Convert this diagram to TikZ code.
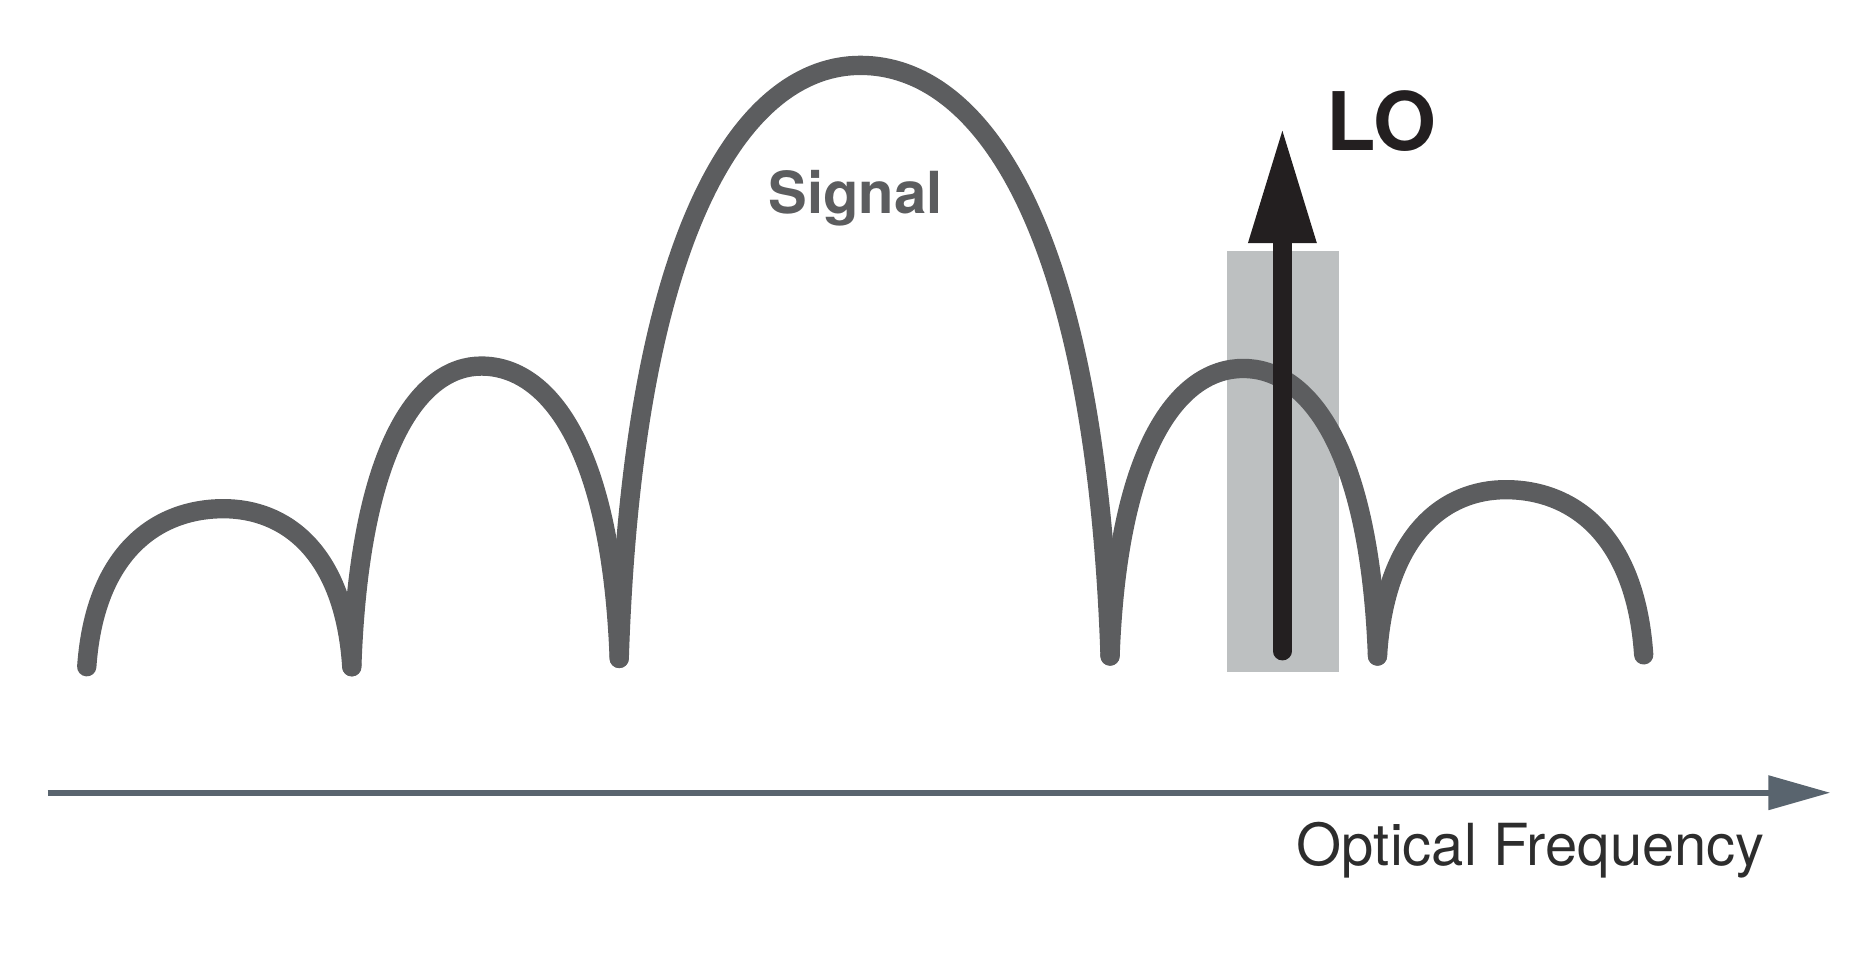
\documentclass[tikz,border=0pt]{standalone}
\usepackage{fontspec}
\setmainfont{TeX Gyre Heros}
\usepackage{xcolor}
\usetikzlibrary{arrows.meta,positioning}

\definecolor{lobegray}{HTML}{5C5D5F}
\definecolor{bandgray}{HTML}{BDC0C1}
\definecolor{lodark}{HTML}{231F20}
\definecolor{axisgray}{HTML}{59646E}
\definecolor{labeldark}{HTML}{2D2D2D}

\begin{document}
\begin{tikzpicture}[x=0.01188cm, y=-0.01188cm,
    lobe/.style={draw=lobegray, line width=5.5pt, line cap=round, line join=round}]
    \useasboundingbox (0,0) rectangle (1565,815);

    % LO band
    \fill[bandgray] (1032,211) rectangle (1127,565);

    % signal lobes
    \foreach \xa/\ya/\xm/\ym/\xb/\yb in {73/561/188/428/296/561, 296/561/405/308/521/554,
        521/554/724/55/934/552, 934/552/1046/310/1159/552, 1159/552/1267/412/1383/551}
      \draw[lobe] (\xa,\ya) .. controls ({\xa+0.06*(\xm-\xa)},{\ya-0.74*(\ya-\ym)}) and ({\xm-0.47*(\xm-\xa)},\ym) .. (\xm,\ym)
        .. controls ({\xm+0.47*(\xb-\xm)},\ym) and ({\xb-0.06*(\xb-\xm)},{\yb-0.74*(\yb-\ym)}) .. (\xb,\yb);
    \node at (720,180) [anchor=base, text=lobegray, font=\bfseries\fontsize{16.5}{18}\selectfont] (signal) {Signal};

    % local oscillator
    \coordinate (lo_foot) at (1079,548);
    \coordinate (lo_tip) at (1079,107);
    \draw[-{Triangle[length=33pt, width=18pt]}, lodark, line width=5.2pt, line cap=round] (lo_foot) -- (lo_tip);
    \node at (1162,127) [anchor=base, text=lodark, font=\bfseries\fontsize{23}{26}\selectfont] (lo_label) {LO};

    % frequency axis
    \coordinate (axis_start) at (40,667);
    \coordinate (axis_end) at (1540,667);
    \draw[-{Triangle[length=17.6pt, width=9.5pt]}, axisgray, line width=1.6pt] (axis_start) -- (axis_end);
    \node at (1288,728) [anchor=base, text=labeldark, font=\fontsize{16.5}{18}\selectfont] (freq_label) {Optical Frequency};
\end{tikzpicture}
\end{document}
